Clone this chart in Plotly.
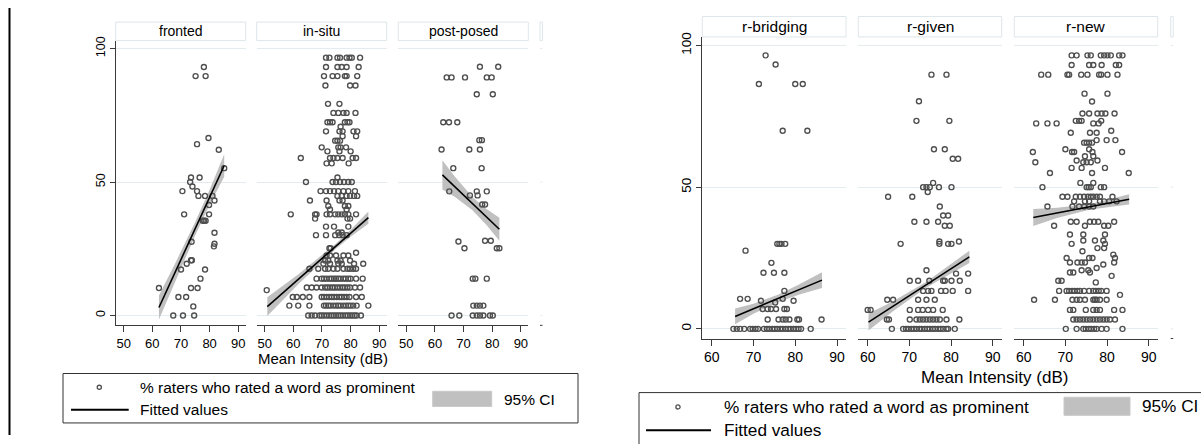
import plotly.graph_objects as go

W, H = 1201, 444
FONT = "Liberation Sans, Arial, sans-serif"

# ---------------- data (rows of y level -> x values) ----------------
fronted_rows = [
    (93.1, [78.0]), (89.7, [75.1, 78.6]), (66.5, [79.6]), (64.2, [75.6]),
    (62.1, [83.2]), (55.2, [85.1]), (51.7, [73.5, 76.5]), (50.0, [73.2]),
    (48.3, [74.0]), (46.6, [70.5, 75.6]), (44.8, [76.1, 78.4, 81.0]),
    (43.1, [81.7]), (41.4, [79.8]), (37.9, [71.1, 79.8]),
    (35.5, [77.6, 78.1, 78.6]), (31.0, [81.7]), (27.6, [73.7]),
    (26.9, [81.7]), (25.9, [81.5]), (20.7, [73.5, 73.8]), (19.4, [72.0]),
    (17.2, [70.0, 78.4]), (13.8, [76.8]), (10.3, [62.3, 73.5, 75.8]),
    (6.9, [69.1, 71.8]), (3.4, [74.3]), (0.0, [67.3, 70.7, 74.6]),
]

insitu_rows = [
    (96.6, [71.4, 72.6, 75.4, 76.3, 78.6, 79.6, 80.4, 83.3]),
    (93.1, [71.4, 75.4, 76.9, 78.6, 82.8]),
    (89.7, [70.7, 73.7, 75.4, 78.0, 78.6, 82.3]),
    (86.2, [71.2, 79.8, 81.7]),
    (79.3, [72.1, 76.1]),
    (75.9, [74.0, 75.7, 77.5, 78.6, 81.7]),
    (72.4, [71.9, 72.8, 73.7, 78.0, 78.9, 79.6]),
    (70.7, [76.5]),
    (69.0, [71.4, 76.1, 77.2, 81.0, 82.3]),
    (67.2, [77.2, 81.9]),
    (65.5, [74.6, 75.4, 76.3]),
    (63.0, [69.9, 75.7, 76.5, 78.4]),
    (61.5, [71.9, 76.1, 80.0]),
    (59.0, [62.6, 72.8, 74.0, 75.4, 77.2, 80.7, 81.9]),
    (57.0, [71.6, 73.4, 79.3]),
    (51.7, [75.4]),
    (50.0, [64.4, 73.7, 74.9, 76.3, 77.7, 79.2, 80.4]),
    (46.6, [69.5, 71.4, 72.8, 74.2, 75.7, 77.5, 79.2, 81.5]),
    (44.8, [75.4, 76.9, 78.6, 79.8, 81.2, 82.3]),
    (43.1, [65.8, 71.6, 76.1, 77.2]),
    (41.0, [72.2, 78.0, 79.2]),
    (39.7, [72.8, 78.6]),
    (37.9, [59.1, 67.6, 68.1, 71.6, 72.8, 74.6, 75.7, 76.9, 78.0, 79.2, 81.9]),
    (36.3, [67.6, 78.9, 79.8]),
    (33.3, [71.4, 74.2, 79.2]),
    (31.1, [75.7, 76.9]),
    (30.1, [67.9, 71.4, 74.6, 76.1, 77.2, 78.6]),
    (25.2, [72.6, 73.0]),
    (23.5, [81.9]),
    (22.5, [71.6, 72.8, 74.9, 77.5, 79.2]),
    (20.6, [71.1, 72.2, 75.4, 76.5, 79.8]),
    (19.4, [70.5, 72.8, 75.7, 76.9, 81.2, 84.4]),
    (17.5, [65.6, 68.7, 71.1, 72.2, 74.0, 75.4, 77.5, 78.9, 79.8, 80.9, 81.9]),
    (13.8, [68.1, 69.9, 70.7, 71.6, 72.6, 73.4, 74.2, 74.9, 75.7, 76.5, 77.5,
            78.3, 79.2, 80.0, 81.9, 84.2]),
    (10.5, [64.7, 66.4, 68.1, 69.9, 71.1, 71.9, 72.8, 73.7, 74.5, 75.4, 76.3,
            77.2, 78.0, 78.9, 79.8, 81.5, 83.3]),
    (9.5, [50.7]),
    (6.9, [59.8, 61.2, 63.3, 65.6, 69.9, 70.7, 71.6, 72.5, 73.4, 74.2, 75.1,
           76.1, 76.9, 77.7, 78.6, 79.6, 81.9, 83.9]),
    (3.7, [58.6, 61.7, 65.6, 70.7, 71.4, 72.2, 73.0, 74.0, 74.9, 75.7, 76.5,
           77.5, 78.4, 79.2, 80.0, 80.9, 82.1, 86.2]),
    (0.0, [65.2, 66.4, 67.6, 69.1, 69.9, 70.7, 71.6, 72.5, 73.3, 74.1, 74.9,
           75.7, 76.5, 77.3, 78.2, 79.0, 79.8, 80.6, 81.4, 82.1, 83.6]),
]

postposed_rows = [
    (93.2, [75.7, 82.1]), (89.2, [64.1, 65.8, 70.5, 78.1, 79.8]),
    (82.9, [74.6, 80.2]), (72.4, [62.9, 64.9, 67.8]), (65.7, [75.5, 76.4]),
    (62.2, [62.3, 72.0, 75.7]), (55.2, [66.4, 76.3]),
    (46.5, [65.0, 74.6, 78.1]), (45.0, [72.2, 74.9]), (41.6, [76.5, 77.5]),
    (28.0, [77.5, 79.5]), (27.7, [68.2]), (25.2, [70.3, 81.6, 82.5]),
    (13.8, [73.2, 74.1, 78.1]), (3.7, [73.4, 74.6, 75.7, 76.9]),
    (0.0, [65.8, 68.5, 73.2, 74.6, 75.7, 76.9, 79.2, 80.2]),
]

bridging_rows = [
    (96.5, [72.9]), (93.3, [75.3]), (86.4, [71.3, 80.0, 81.8]),
    (69.9, [77.0, 82.9]), (30.0, [75.7, 76.2, 76.7, 77.6]), (27.6, [68.1]),
    (23.3, [74.3]), (19.8, [72.4, 74.9, 77.4]), (13.4, [77.4]),
    (10.6, [66.8, 68.6, 77.0]), (9.9, [71.8, 79.6]), (9.3, [75.2]),
    (7.0, [72.2, 73.4, 74.2, 75.4, 77.4, 78.0]),
    (3.3, [73.4, 76.0, 77.0, 77.7, 78.6, 80.5, 80.9, 86.3]),
    (0.0, [65.2, 66.0, 66.8, 67.8, 69.2, 69.8, 70.5, 71.1, 72.5, 73.2, 73.8,
           74.5, 75.1, 75.7, 76.4, 77.0, 77.7, 78.3, 78.9, 79.6, 80.2, 80.8,
           81.4, 83.7]),
]

given_rows = [
    (89.7, [75.3, 78.9]), (80.3, [72.3]), (73.4, [71.7, 79.6]),
    (63.4, [75.9, 78.5]), (60.0, [80.4, 81.7]), (51.5, [75.7]),
    (50.0, [73.3, 74.1, 74.9, 77.1, 80.1]), (48.3, [74.4]),
    (46.6, [64.9, 70.7]), (43.2, [77.3]), (40.0, [78.1, 79.3]),
    (37.8, [71.2, 74.1, 76.9]), (36.4, [78.5, 79.7]), (30.8, [77.2, 81.9]),
    (30.0, [67.9, 77.2, 79.3, 80.1]), (20.7, [74.1]), (19.5, [81.2, 84.1]),
    (17.0, [70.1, 72.1, 74.8, 78.1, 78.5, 80.1, 82.1]),
    (13.4, [73.3, 74.5, 75.3, 77.6, 78.7, 80.4, 84.1]),
    (10.3, [64.7, 66.1, 72.1, 74.1, 76.1]),
    (6.7, [60.0, 60.7, 70.1, 72.1, 73.2, 74.5, 75.7, 78.0]),
    (3.3, [64.6, 65.1, 70.1, 71.7, 72.5, 73.3, 74.1, 74.9, 75.7, 76.5, 77.3,
           78.9, 82.0]),
    (0.0, [65.8, 68.5, 69.2, 69.8, 70.5, 71.1, 71.7, 72.4, 73.0, 73.7, 74.3,
           74.9, 75.6, 76.2, 76.9, 77.5, 78.1, 78.9, 79.3, 80.9]),
]

new_rows = [
    (96.5, [71.5, 72.7, 75.3, 76.1, 78.5, 79.3, 80.1, 80.9, 82.9, 83.7]),
    (93.1, [71.5, 75.7, 76.7, 78.7, 82.1, 82.9]),
    (89.7, [64.2, 65.9, 70.5, 70.9, 73.8, 75.3, 78.1, 78.6, 80.1, 82.5]),
    (83.0, [74.6, 80.1]), (80.2, [76.4]),
    (76.0, [74.1, 75.7, 77.7, 78.7, 79.6, 81.8]),
    (73.4, [72.5, 73.3, 73.9, 78.6]),
    (72.5, [63.0, 65.7, 67.9, 76.7, 78.0]),
    (69.9, [81.0]), (69.2, [71.3, 75.9, 77.5]),
    (66.6, [77.5, 79.9, 82.0]), (65.7, [74.5, 75.1, 75.7, 76.4]),
    (63.4, [70.0, 75.7]), (62.4, [62.2, 71.6, 72.1, 76.5, 83.6]),
    (60.9, [74.7, 76.7]), (59.4, [72.7, 77.7]),
    (58.8, [62.8, 74.3, 75.1, 76.1]), (56.8, [71.5, 73.9, 79.5]),
    (55.0, [66.3, 76.4, 85.2]), (51.5, [73.6, 76.7]),
    (50.0, [64.5, 75.1, 75.6, 76.1, 78.5, 79.3]),
    (46.6, [69.3, 70.5, 72.5, 73.5, 74.5, 75.4, 76.1, 76.7, 77.5, 78.3, 81.3]),
    (45.0, [72.1, 74.7, 75.7, 78.3, 79.3, 80.5, 82.3]),
    (43.2, [65.7, 71.7, 73.3, 74.5, 75.7, 76.7]),
    (37.8, [71.3, 72.7, 75.9, 76.9, 77.9, 81.7]),
    (36.4, [67.3, 74.7, 79.3, 80.3]), (33.3, [71.1, 74.3, 79.5]),
    (31.2, [74.3, 77.1, 79.1]), (30.0, [71.5, 79.5]), (28.5, [77.7, 79.3]),
    (27.4, [74.1]), (26.2, [81.5]), (25.0, [70.3, 75.7, 76.5, 81.9]),
    (23.4, [71.1, 72.9, 73.9, 74.7, 81.7]), (22.7, [79.1]), (21.5, [77.5]),
    (20.7, [73.9, 75.5]), (19.9, [71.1, 71.9, 75.9]), (18.7, [81.1]),
    (17.0, [68.3, 69.1]), (16.4, [77.3]),
    (13.4, [68.5, 70.3, 70.9, 71.6, 72.2, 72.9, 73.5, 74.5, 75.7, 76.7, 77.3,
            78.0, 78.6, 79.9]),
    (12.0, [83.1]),
    (10.3, [62.5, 67.5, 71.7, 72.7, 73.5, 74.7, 76.7, 77.1, 77.5, 78.3, 79.9]),
    (6.7, [71.1, 71.9, 74.9, 76.7, 77.5, 78.3, 81.7, 83.7]),
    (3.3, [71.9, 72.7, 73.5, 74.3, 75.1, 75.9, 76.7, 77.5, 78.3, 79.1, 79.9,
           80.7, 81.9]),
    (0.0, [70.1, 72.7, 74.3, 74.9, 75.6, 76.2, 76.9, 77.5, 78.7, 79.9, 83.7]),
]

# fitted lines and 95% CI bands
fronted_fit_x, fronted_fit_y = [62.3, 85.1], [3.0, 56.2]
fronted_ci_x = [62.3, 68, 75, 80, 85.1]
fronted_ci_lo = [-1.5, 13.0, 30.1, 41.5, 52.0]
fronted_ci_hi = [7.5, 19.6, 35.1, 47.1, 60.4]

insitu_fit_x, insitu_fit_y = [50.9, 86.2], [3.3, 36.7]
insitu_ci_x = [50.9, 62, 75, 80, 86.2]
insitu_ci_lo = [-0.2, 12.0, 25.1, 29.5, 34.4]
insitu_ci_hi = [6.8, 15.6, 27.1, 32.1, 39.0]

postposed_fit_x, postposed_fit_y = [62.6, 82.5], [52.7, 32.3]
postposed_ci_x = [62.6, 67, 73, 78, 82.5]
postposed_ci_lo = [47.2, 44.4, 39.5, 33.9, 28.0]
postposed_ci_hi = [58.2, 52.0, 44.5, 39.9, 36.6]

bridging_fit_x, bridging_fit_y = [65.6, 86.4], [4.4, 17.2]
bridging_ci_x = [65.6, 70, 76, 81, 86.4]
bridging_ci_lo = [1.6, 5.3, 9.5, 12.1, 14.4]
bridging_ci_hi = [7.2, 8.9, 12.1, 15.7, 20.0]

given_fit_x, given_fit_y = [60.2, 84.4], [2.4, 25.4]
given_ci_x = [60.2, 66, 74, 79, 84.4]
given_ci_lo = [-0.6, 6.1, 14.5, 18.7, 23.2]
given_ci_hi = [5.4, 9.7, 16.5, 21.7, 27.6]

new_fit_x, new_fit_y = [62.3, 85.3], [39.3, 45.7]
new_ci_x = [62.3, 68, 76, 81, 85.3]
new_ci_lo = [36.3, 39.1, 42.1, 43.1, 43.9]
new_ci_hi = [42.3, 42.7, 44.1, 45.9, 47.5]

panel_names = ["fronted", "in-situ", "post-posed", "r-bridging", "r-given", "r-new"]
x_ticks_left = [50, 60, 70, 80, 90]
x_ticks_right = [60, 70, 80, 90]
y_ticks = [0, 50, 100]

# ---------------- layout helpers ----------------
def fx(p):
    return p / W


def fy(p):
    return 1 - p / H


def flat(rows):
    xs, ys = [], []
    for yv, xl in rows:
        for xv in xl:
            xs.append(xv)
            ys.append(yv)
    return xs, ys


groups = {
    "L": dict(ytop=36.0, ybot=324.0, yrange=[-3.7, 103], xrange=[47.2, 92.6],
              xticks=x_ticks_left, tick_size=13, strip=(17.3, 36.0), strip_size=14,
              stub=540.0),
    "R": dict(ytop=32.3, ybot=337.3, yrange=[-3.4, 103], xrange=[57.75, 92.15],
              xticks=x_ticks_right, tick_size=14, strip=(11.7, 32.3), strip_size=15.5,
              stub=1170.7),
}

panels = [
    dict(rows=fronted_rows, fx_=fronted_fit_x, fy_=fronted_fit_y, cx=fronted_ci_x,
         lo=fronted_ci_lo, hi=fronted_ci_hi, x0=115.7, x1=245.7, g="L", first=True),
    dict(rows=insitu_rows, fx_=insitu_fit_x, fy_=insitu_fit_y, cx=insitu_ci_x,
         lo=insitu_ci_lo, hi=insitu_ci_hi, x0=256.7, x1=386.7, g="L", first=False),
    dict(rows=postposed_rows, fx_=postposed_fit_x, fy_=postposed_fit_y, cx=postposed_ci_x,
         lo=postposed_ci_lo, hi=postposed_ci_hi, x0=398.3, x1=528.3, g="L", first=False),
    dict(rows=bridging_rows, fx_=bridging_fit_x, fy_=bridging_fit_y, cx=bridging_ci_x,
         lo=bridging_ci_lo, hi=bridging_ci_hi, x0=702.3, x1=846.0, g="R", first=True),
    dict(rows=given_rows, fx_=given_fit_x, fy_=given_fit_y, cx=given_ci_x,
         lo=given_ci_lo, hi=given_ci_hi, x0=858.3, x1=1001.7, g="R", first=False),
    dict(rows=new_rows, fx_=new_fit_x, fy_=new_fit_y, cx=new_ci_x,
         lo=new_ci_lo, hi=new_ci_hi, x0=1014.3, x1=1157.7, g="R", first=False),
]

AX = "#3a3a3a"
GRID = "#e3ebee"
STRIP_LINE = "#dde6eb"
CI_COL = "#c0c0c0"
MK_COL = "#4f4f4f"

fig = go.Figure()
layout = dict(width=W, height=H, margin=dict(l=0, r=0, t=0, b=0), autosize=False,
              paper_bgcolor="white", plot_bgcolor="white", showlegend=False,
              font=dict(family=FONT, color="black"))
shapes, annotations = [], []

for i, (p, name) in enumerate(zip(panels, panel_names), start=1):
    g = groups[p["g"]]
    xr, yr = f"x{i}", f"y{i}"
    # CI band
    fig.add_trace(go.Scatter(x=p["cx"], y=p["lo"], mode="lines", line=dict(width=0, color=CI_COL),
                             xaxis=xr, yaxis=yr, hoverinfo="skip"))
    fig.add_trace(go.Scatter(x=p["cx"], y=p["hi"], mode="lines", line=dict(width=0, color=CI_COL),
                             fill="tonexty", fillcolor=CI_COL, xaxis=xr, yaxis=yr, hoverinfo="skip"))
    xs, ys = flat(p["rows"])
    fig.add_trace(go.Scatter(x=xs, y=ys, mode="markers", xaxis=xr, yaxis=yr,
                             marker=dict(symbol="circle-open", size=5, color=MK_COL,
                                         line=dict(width=1.4, color=MK_COL))))
    fig.add_trace(go.Scatter(x=p["fx_"], y=p["fy_"], mode="lines", xaxis=xr, yaxis=yr,
                             line=dict(color="black", width=1.6)))
    suffix = "" if i == 1 else str(i)
    layout["xaxis" + suffix] = dict(
        domain=[fx(p["x0"]), fx(p["x1"])], range=g["xrange"], tickvals=g["xticks"],
        ticks="outside", ticklen=6, tickcolor=AX, tickwidth=1, showline=True,
        linecolor=AX, linewidth=1, showgrid=False, zeroline=False, anchor=yr,
        tickfont=dict(size=g["tick_size"], color="black", family=FONT), fixedrange=True)
    layout["yaxis" + suffix] = dict(
        domain=[fy(g["ybot"]), fy(g["ytop"])], range=g["yrange"], tickvals=y_ticks,
        showgrid=True, gridcolor=GRID, gridwidth=1, zeroline=False, anchor=xr,
        showline=p["first"], linecolor=AX, linewidth=1,
        ticks="outside" if p["first"] else "", ticklen=5, tickcolor=AX,
        showticklabels=p["first"], tickangle=-90,
        tickfont=dict(size=g["tick_size"] - 0.5, color="black", family=FONT), fixedrange=True)
    # strip header
    s0, s1 = g["strip"]
    shapes.append(dict(type="rect", xref="paper", yref="paper", x0=fx(p["x0"]), x1=fx(p["x1"]),
                       y0=fy(s1), y1=fy(s0), line=dict(color=STRIP_LINE, width=1),
                       fillcolor="white", layer="below"))
    annotations.append(dict(text=name, xref="paper", yref="paper", showarrow=False,
                            x=fx((p["x0"] + p["x1"]) / 2), y=fy((s0 + s1) / 2),
                            xanchor="center", yanchor="middle",
                            font=dict(size=g["strip_size"], color="black", family=FONT)))

# stub of 4th (empty) facet in each figure
for key, g in groups.items():
    sx = g["stub"]
    s0, s1 = g["strip"]
    shapes.append(dict(type="rect", xref="paper", yref="paper", x0=fx(sx), x1=fx(sx + 2.5),
                       y0=fy(s1), y1=fy(s0), line=dict(color=STRIP_LINE, width=1)))
    span = g["ybot"] - g["ytop"]
    y0v, y1v = g["yrange"]
    for t in y_ticks:
        py = g["ybot"] - (t - y0v) / (y1v - y0v) * span
        shapes.append(dict(type="line", xref="paper", yref="paper", x0=fx(sx), x1=fx(sx + 2.5),
                           y0=fy(py), y1=fy(py), line=dict(color=GRID, width=1)))
    shapes.append(dict(type="line", xref="paper", yref="paper", x0=fx(sx), x1=fx(sx + 2.5),
                       y0=fy(g["ybot"]), y1=fy(g["ybot"]), line=dict(color=AX, width=1)))

# axis titles
annotations.append(dict(text="Mean Intensity (dB)", xref="paper", yref="paper", showarrow=False,
                        x=fx(322.5), y=fy(358), xanchor="center", yanchor="middle",
                        font=dict(size=15, color="black", family=FONT)))
annotations.append(dict(text="Mean Intensity (dB)", xref="paper", yref="paper", showarrow=False,
                        x=fx(994), y=fy(376.5), xanchor="center", yanchor="middle",
                        font=dict(size=17, color="black", family=FONT)))

# left border line
shapes.append(dict(type="line", xref="paper", yref="paper", x0=fx(9.5), x1=fx(9.5),
                   y0=fy(3), y1=fy(435), line=dict(color="black", width=2)))

# legends
legends = [
    dict(box=(63, 372.7, 578, 422.7), mk=(99.3, 386.7), ln=(71, 128.7, 409.3), tx=138.3,
         t1=387, t2=409.3, rect=(432.7, 491.7, 390.7, 406), ci=(501.7, 398.5), size=15.5),
    dict(box=(639, 392, 1215, 460), mk=(678, 406.5), ln=(646, 711, 430), tx=721.7,
         t1=406.5, t2=430, rect=(1064, 1130, 396.7, 415), ci=(1140, 406), size=17.2),
]
for L in legends:
    bx0, by0, bx1, by1 = L["box"]
    shapes.append(dict(type="rect", xref="paper", yref="paper", x0=fx(bx0), x1=fx(bx1),
                       y0=fy(by1), y1=fy(by0), line=dict(color="#333333", width=1),
                       fillcolor="rgba(0,0,0,0)"))
    mx, my = L["mk"]
    shapes.append(dict(type="circle", xref="paper", yref="paper", x0=fx(mx - 2.1), x1=fx(mx + 2.1),
                       y0=fy(my + 2.1), y1=fy(my - 2.1), line=dict(color=MK_COL, width=1.3)))
    lx0, lx1, ly = L["ln"]
    shapes.append(dict(type="line", xref="paper", yref="paper", x0=fx(lx0), x1=fx(lx1),
                       y0=fy(ly), y1=fy(ly), line=dict(color="black", width=2)))
    rx0, rx1, ry0, ry1 = L["rect"]
    shapes.append(dict(type="rect", xref="paper", yref="paper", x0=fx(rx0), x1=fx(rx1),
                       y0=fy(ry1), y1=fy(ry0), line=dict(color="#c8c8c8", width=1),
                       fillcolor=CI_COL))
    for txt, tyy in (("% raters who rated a word as prominent", L["t1"]), ("Fitted values", L["t2"])):
        annotations.append(dict(text=txt, xref="paper", yref="paper", showarrow=False,
                                x=fx(L["tx"]), y=fy(tyy), xanchor="left", yanchor="middle",
                                font=dict(size=L["size"], color="black", family=FONT)))
    cx, cy = L["ci"]
    annotations.append(dict(text="95% CI", xref="paper", yref="paper", showarrow=False,
                            x=fx(cx), y=fy(cy), xanchor="left", yanchor="middle",
                            font=dict(size=L["size"], color="black", family=FONT)))

layout["shapes"] = shapes
layout["annotations"] = annotations
fig.update_layout(**layout)
fig.write_html("out.html", config={"displayModeBar": False, "staticPlot": True},
               post_script="document.body.style.margin='0px';document.body.style.overflow='hidden';")
